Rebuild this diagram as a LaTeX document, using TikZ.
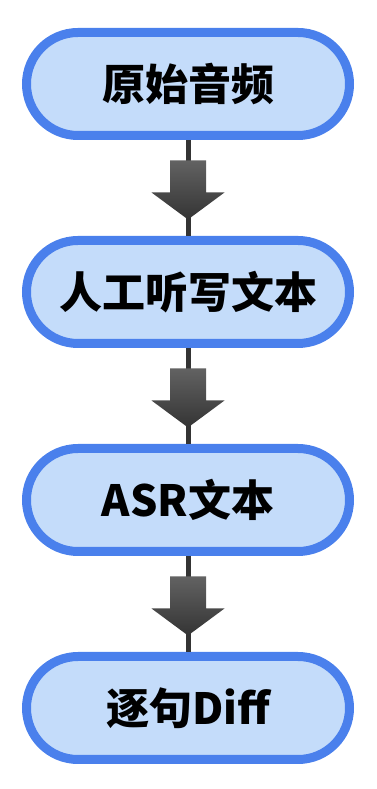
\documentclass[tikz,border=0pt]{standalone}
\usepackage{fontspec}
\newfontfamily\cjk{Noto Sans CJK SC}
\usepackage{xcolor}
\usetikzlibrary{positioning,calc}

\definecolor{boxblue}{RGB}{74,128,236}
\definecolor{boxfill}{RGB}{196,220,250}
\definecolor{arrowdark}{RGB}{52,52,52}
\definecolor{arrowlight}{RGB}{98,98,98}

\tikzset{
  stage/.style={draw=boxblue, line width=9pt, fill=boxfill, rounded corners=51.5pt,
    minimum width=323pt, minimum height=103pt, inner sep=0pt,
    font=\cjk\bfseries\fontsize{43}{50}\selectfont, text=black},
  link/.style={draw=arrowdark, line width=5pt},
  blockarrow/.style={top color=arrowlight, bottom color=arrowdark}
}

\begin{document}
\begin{tikzpicture}[x=1pt, y=1pt]
    % Canvas
    \useasboundingbox (0,0) rectangle (377,789);

    % Stages
    \node[stage] (audio) at (188,705) {原始音频};
    \node[stage, below=96pt of audio] (manual) {人工听写文本};
    \node[stage, below=96pt of manual] (asr) {ASR文本};
    \node[stage, below=96pt of asr] (diff) {逐句Diff};

    % Arrows between stages
    \foreach \a/\b in {audio/manual, manual/asr, asr/diff} {
        \draw[link] (\a.south) -- (\b.north);
        \coordinate (mid) at ($(\a.south)!0.5!(\b.north)$);
        \shade[blockarrow] ($(mid)+(-18,27.5)$) -- ($(mid)+(18,27.5)$) -- ($(mid)+(18,-4.5)$)
            -- ($(mid)+(36.5,-4.5)$) -- ($(mid)+(0,-31.5)$) -- ($(mid)+(-36.5,-4.5)$)
            -- ($(mid)+(-18,-4.5)$) -- cycle;
    }
\end{tikzpicture}
\end{document}
